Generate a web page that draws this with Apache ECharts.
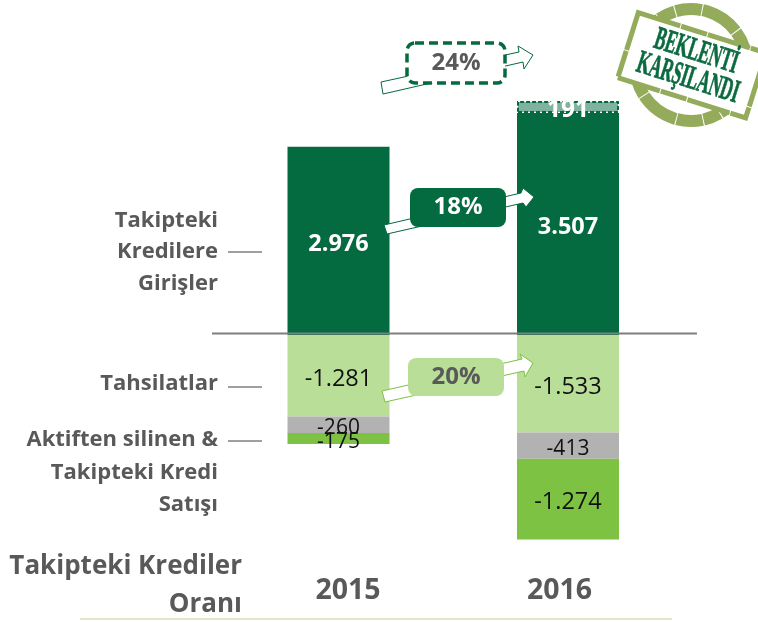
<!DOCTYPE html>
<html>
<head>
<meta charset="utf-8">
<style>html,body{margin:0;padding:0;background:#fff}#chart{width:758px;height:623px}</style>
<script src="https://cdn.jsdelivr.net/npm/echarts@6/dist/echarts.min.js"></script>
</head>
<body>
<div id="chart"></div>
<script>
let years = ['2015', '2016'];
let girisler = [2976, 3507];
let beklenti = [null, 191];
let tahsilatlar = [-1281, -1533];
let aktiften = [-260, -413];
let satis = [-175, -1274];

let font = '"Open Sans"';
let dark = '#046a3f', light = '#b9de97', grey = '#b2b2b2', green = '#7dc242', textGrey = '#595959';

function fmt(p) {
  return String(p.value).replace(/(\d)(\d{3})$/, '$1.$2');
}

// the four digit values are set a bit larger than the small segments
function sized(data, small) {
  return data.map(function(v) {
    return {value: v, label: {fontSize: Math.abs(v) >= 1000 ? 23.5 : small}};
  });
}

function bar(name, data, color, labelStyle, extra) {
  return Object.assign({
    name: name, type: 'bar', stack: 'a', barWidth: 102, data: sized(data, 21),
    itemStyle: {color: color}, silent: true,
    label: Object.assign({show: true, position: 'inside', offset: [0, 3], formatter: fmt, fontFamily: font, color: '#111'}, labelStyle)
  }, extra);
}

function sideText(str, x, y, size) {
  return {type: 'text', z: 10, x: x, y: y, style: {text: str, align: 'right', verticalAlign: 'middle', fontFamily: font, fontWeight: 'bold', fontSize: size, fill: textGrey}};
}
function leader(x1, x2, y, color, w) {
  return {type: 'line', z: 10, shape: {x1: x1, y1: y, x2: x2, y2: y}, style: {stroke: color, lineWidth: w}};
}
function arrow(pts, fill, stroke) {
  return {type: 'polygon', z: 10, shape: {points: pts}, style: {fill: fill, stroke: stroke, lineWidth: 1}};
}
function box(x, y, w, h, fill, stroke, dash, txt, color) {
  return {
    type: 'rect', z: 11, shape: {x: x, y: y, width: w, height: h, r: 8},
    style: {fill: fill, stroke: stroke, lineWidth: stroke ? 3.5 : 0, lineDash: dash},
    textContent: {z: 12, style: {text: txt, fontFamily: font, fontWeight: 'bold', fontSize: 24, fill: color}},
    textConfig: {position: 'inside'}
  };
}

let stamp = {
  type: 'group', z: 10, x: 691, y: 65, rotation: -17.5 * Math.PI / 180,
  children: [
    {type: 'circle', shape: {cx: 0, cy: 0, r: 56}, style: {fill: 'none', stroke: '#93ab5a', lineWidth: 12, lineDash: [40, 1, 17, 1, 26, 1]}},
    {type: 'rect', shape: {x: -66, y: -34, width: 134, height: 68}, style: {fill: '#fff', stroke: '#93ab5a', lineWidth: 5, lineDash: [44, 1, 27, 1]}},
    {type: 'text', x: 1, y: -14, scaleX: 0.66, scaleY: 1.3, style: {text: 'BEKLENTİ', align: 'center', verticalAlign: 'middle', fontFamily: '"Liberation Serif"', fontWeight: 'bold', fontSize: 25, fill: '#0b6b3f', stroke: '#0b6b3f', lineWidth: 0.6}},
    {type: 'text', x: 1, y: 14, scaleX: 0.66, scaleY: 1.3, style: {text: 'KARŞILANDI', align: 'center', verticalAlign: 'middle', fontFamily: '"Liberation Serif"', fontWeight: 'bold', fontSize: 25, fill: '#0b6b3f', stroke: '#0b6b3f', lineWidth: 0.6}}
  ]
};

let option = {
  animation: false,
  backgroundColor: '#fff',
  grid: {left: 223.75, width: 459, top: 94.5, height: 450},
  xAxis: {
    type: 'category',
    // the year labels sit a little inward of their bars
    data: [
      {value: years[0], textStyle: {padding: [0, 0, 0, 19]}},
      {value: years[1], textStyle: {padding: [0, 17, 0, 0]}}
    ],
    position: 'bottom',
    axisLine: {show: false, onZero: false}, axisTick: {show: false},
    axisLabel: {margin: 32, fontFamily: font, fontWeight: 'bold', fontSize: 28.5, color: textGrey}
  },
  yAxis: {type: 'value', min: -3300, max: 3800, show: false, splitLine: {show: false}},
  series: [
    bar('Takipteki Kredilere Girişler', girisler, dark, {color: '#fff', fontWeight: 'bold'}),
    bar('Beklenti', beklenti, '#7fb39f', {color: '#fff', fontWeight: 'bold'}, {
      data: sized(beklenti, 24.5),
      itemStyle: {color: '#7fb39f', borderColor: dark, borderType: [4, 2], borderWidth: 2}
    }),
    bar('Tahsilatlar', tahsilatlar, light, {}),
    bar('Aktiften silinen', aktiften, grey, {}),
    bar('Takipteki Kredi Satışı', satis, green, {})
  ],
  graphic: {elements: [
    leader(212, 697, 333.5, '#7f7f7f', 2),
    leader(228, 262, 252, '#7f7f7f', 1.5),
    leader(228, 262, 387, '#7f7f7f', 1.5),
    leader(228, 262, 441, '#7f7f7f', 1.5),
    leader(80, 672, 619, '#dfe8cc', 2),
    sideText('Takipteki', 218, 221, 22),
    sideText('Kredilere', 218, 252, 22),
    sideText('Girişler', 218, 284, 22),
    sideText('Tahsilatlar', 218, 384, 22),
    sideText('Aktiften silinen &', 218, 440, 22),
    sideText('Takipteki Kredi', 218, 473, 22),
    sideText('Satışı', 218, 505, 22),
    sideText('Takipteki Krediler', 242, 567, 26),
    sideText('Oranı', 242, 605, 26),
    arrow([[381, 82], [519, 52], [518, 46], [533, 55], [524, 69], [523, 62], [383, 94]], '#fff', dark),
    box(407, 43, 98, 40, '#fff', dark, [9, 5], '24%', textGrey),
    arrow([[384, 225], [521, 193], [523, 188], [534, 197], [526, 207], [523, 203], [387, 234]], '#fff', dark),
    box(410, 188, 96, 39, dark, null, null, '18%', '#fff'),
    arrow([[382, 391], [522, 359], [520, 354], [533, 363], [525, 377], [524, 371], [385, 402]], '#fff', green),
    box(408, 358, 96, 38, light, null, null, '20%', textGrey),
    stamp
  ]}
};

let chart = echarts.init(document.getElementById('chart'));
chart.setOption(option);
</script>
</body>
</html>
